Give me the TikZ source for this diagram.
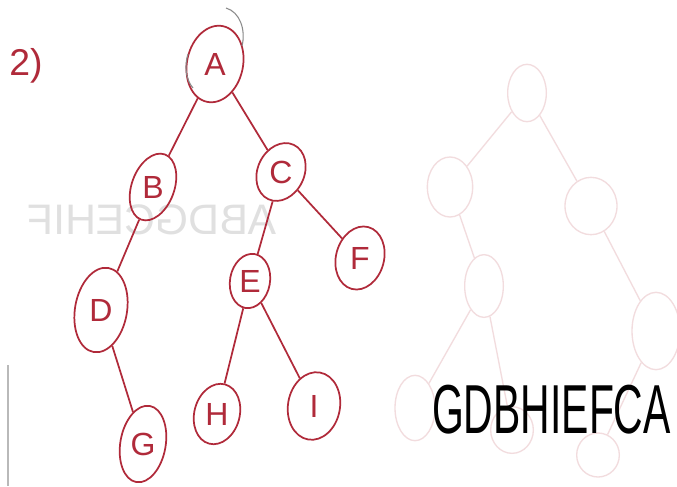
\documentclass[tikz,border=0pt]{standalone}
\usepackage{fontspec}
\setmainfont{Liberation Sans}
\usetikzlibrary{shapes.geometric}
\definecolor{ink}{HTML}{B02A3A}
\definecolor{ghost}{HTML}{F2DCDE}
\definecolor{ghosttext}{HTML}{E0E0E0}
\definecolor{pencil}{HTML}{8A8A8A}
\newcommand{\up}[2]{\rotatebox{#1}{#2}}
\begin{document}
\begin{tikzpicture}[x=0.75pt,y=-0.75pt,
  tn/.style={draw=ink,ellipse,line width=1.3pt,inner sep=0pt,text=ink,font=\fontsize{24}{26}\selectfont},
  te/.style={draw=ink,line width=1.3pt},
  gn/.style={draw=ghost,ellipse,line width=1pt,inner sep=0pt},
  ge/.style={draw=ghost,line width=1pt}]
\useasboundingbox[fill=white] (0,0) rectangle (677,486);

% faint bleed-through
\node[text=ghosttext,font=\fontsize{32}{32}\selectfont,xscale=-1] (gt) at (152,220) {ABDGCEHIF};
\node[gn,minimum width=29pt,minimum height=43pt] (g1) at (527,93) {};
\node[gn,minimum width=34pt,minimum height=45pt] (g2) at (450,187) {};
\node[gn,minimum width=39pt,minimum height=43pt] (g3) at (591,206) {};
\node[gn,minimum width=29pt,minimum height=47pt] (g4) at (484,286) {};
\node[gn,minimum width=36pt,minimum height=58pt] (g5) at (656,331) {};
\node[gn,minimum width=30pt,minimum height=49pt] (g6) at (415,408) {};
\node[gn,minimum width=32pt,minimum height=35pt] (g7) at (512,430) {};
\node[gn,minimum width=32pt,minimum height=33pt] (g8) at (598,455) {};
\draw[ge] (g1) -- (g2);
\draw[ge] (g1) -- (g3);
\draw[ge] (g2) -- (g4);
\draw[ge] (g3) -- (g5);
\draw[ge] (g4) -- (g6);
\draw[ge] (g4) -- (g7);
\draw[ge] (g5) -- (g8);
\draw[pencil!60,line width=1.2pt] (8,365) -- (8,486);

% label
\node[text=ink,font=\fontsize{28}{30}\selectfont] (lbl) at (26,66) {2)};

% tree
\node[tn,minimum width=42pt,minimum height=58pt,rotate=-12] (A) at (215,64) {\up{12}{A}};
\node[tn,minimum width=32pt,minimum height=52pt,rotate=-20] (B) at (153,187) {\up{20}{B}};
\node[tn,minimum width=35pt,minimum height=45pt,rotate=-25] (C) at (281,172) {\up{25}{C}};
\node[tn,minimum width=39pt,minimum height=64pt,rotate=-10] (D) at (101,310) {\up{10}{D}};
\node[tn,minimum width=30pt,minimum height=41pt,rotate=-10] (E) at (250,281) {\up{10}{E}};
\node[tn,minimum width=36pt,minimum height=48pt,rotate=-15] (F) at (360,258) {\up{15}{F}};
\node[tn,minimum width=34pt,minimum height=58pt,rotate=-10] (G) at (143,444) {\up{10}{G}};
\node[tn,minimum width=34pt,minimum height=46pt,rotate=-15] (H) at (217,414) {\up{15}{H}};
\node[tn,minimum width=39pt,minimum height=51pt,rotate=-10] (I) at (314,406) {\up{10}{I}};

\draw[te] (A) -- (B);
\draw[te] (A) -- (C);
\draw[te] (B) -- (D);
\draw[te] (C) -- (E);
\draw[te] (C) -- (F);
\draw[te] (D) -- (G);
\draw[te] (E) -- (H);
\draw[te] (E) -- (I);

% pencil mark over A
\draw[pencil,line width=0.8pt] (226,8) .. controls (240,12) and (246,30) .. (242,46);
\draw[pencil,line width=0.8pt] (188,54) .. controls (184,66) and (186,80) .. (193,88);

% traversal
\node[anchor=west,font=\fontsize{52}{54}\selectfont,xscale=0.59,inner sep=0pt] (trav) at (432,410) {GDBHIEFCA};
\end{tikzpicture}
\end{document}
